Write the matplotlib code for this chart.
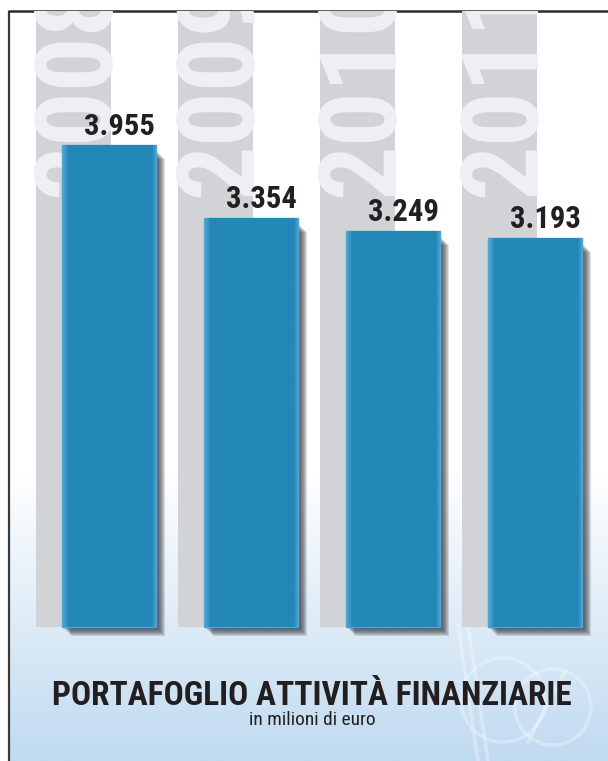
import os
import numpy as np
import matplotlib
matplotlib.use('Agg')
import matplotlib.pyplot as plt
from matplotlib import font_manager as fm
from matplotlib.colors import to_rgb
from matplotlib.patches import Circle

# dati
anni = ['2008', '2009', '2010', '2011']
valori = [3955, 3354, 3249, 3193]
titolo = 'PORTAFOGLIO ATTIVITÀ FINANZIARIE'
sottotitolo = 'in milioni di euro'


def trova_font(chiavi, bold):
    # cerca un file di font stretto (narrow / condensed)
    escl = ['italic', 'oblique', 'semi', 'extra', 'ultra', 'light', 'thin', 'medium', 'black', 'heavy']
    for k in chiavi:
        for f in fm.fontManager.ttflist:
            fn = os.path.basename(f.fname).lower()
            if k not in fn or any(e in fn for e in escl):
                continue
            if ('bold' in fn) == bold:
                return fm.FontProperties(fname=f.fname)
    return fm.FontProperties(family='DejaVu Sans', weight='bold' if bold else 'normal')


chiavi = ['liberationsansnarrow', 'robotocondensed', 'roboto_condensed', 'opensans_condensed',
          'opensans-condensed', 'opensanscondensed', 'notosans-condensed', 'dejavusanscondensed']
fp_b = trova_font(chiavi, True)
fp_r = trova_font(chiavi, False)

W, H = 608, 761
fig = plt.figure(figsize=(W / 100, H / 100), dpi=100)
renderer = fig.canvas.get_renderer()


def adatta(txt, larghezza):
    # regola la dimensione del testo sulla larghezza voluta (pixel)
    w = txt.get_window_extent(renderer).width
    txt.set_fontsize(txt.get_fontsize() * larghezza / w)


# sfondo in pixel
bg = fig.add_axes([0, 0, 1, 1])
bg.set_xlim(0, W)
bg.set_ylim(H, 0)
bg.axis('off')

# sfumatura azzurra in basso
top_c = np.array(to_rgb('#ffffff'))
bot_c = np.array(to_rgb('#c0daf0'))
t = np.linspace(0, 1, 256)[:, None, None]
grad = top_c * (1 - t) + bot_c * t
bg.imshow(grad, extent=[8, W, H, 470], aspect='auto', zorder=0)

# cornice
bg.plot([8.5, 8.5], [11, H], color='#3a3a3a', lw=1.6, zorder=1, solid_capstyle='butt')
bg.plot([8, W], [11, 11], color='#2a2a2a', lw=1.8, zorder=1, solid_capstyle='butt')

# logo in filigrana
wm = dict(color='white', alpha=0.3, lw=2.5, zorder=1)
bg.plot([458, 478], [625, 761], **wm)
bg.plot([468, 488], [625, 761], **wm)
for cx, cy, r in [(503, 700, 42), (553, 707, 38)]:
    bg.add_patch(Circle((cx, cy), r, fill=False, ec='white', alpha=0.3, lw=2.5, zorder=1))
bg.plot([565, 528], [672, 742], **wm)

# titolo
tt = fig.text(312 / W, 1 - 705 / H, titolo, ha='center', va='baseline',
              color='#231f20', fontproperties=fp_b)
tt.set_fontsize(23)
adatta(tt, 521)
st = fig.text(312 / W, 1 - 725 / H, sottotitolo, ha='center', va='baseline',
              color='#231f20', fontproperties=fp_r)
st.set_fontsize(12)
adatta(st, 127)

# grafico
ax = fig.add_axes([8 / W, 0, (W - 8) / W, (H - 11) / H])
ax.patch.set_alpha(0)
ax.axis('off')
scala = 482 / 3955          # pixel per unità
y_top = (627 - 11) / scala
y_bot = -(H - 627) / scala
ax.set_ylim(y_bot, y_top)
ax.set_xlim(-101 / 142, -101 / 142 + (W - 8) / 142)

x = np.arange(len(anni))
vals = np.array(valori)

# fasce grigie con l'anno
ax.bar(x - 0.25, y_top, width=0.528, color='#d1d3d6', zorder=1)
for xi, anno in zip(x, anni):
    ty = ax.text(xi + 0.005, (627 - 197) / scala, anno, rotation=90, rotation_mode='anchor',
                 ha='left', va='baseline', color='#eef0f3', fontproperties=fp_b,
                 clip_on=True, zorder=2)
    ty.set_fontsize(78)

# ombre
for s in range(1, 10):
    ax.bar(x + s / 142, vals - 5 / scala, width=0.662, bottom=-s / scala,
           color='#2a2e34', alpha=0.15, zorder=3, linewidth=0)

# barre
bars = ax.bar(x, vals, width=0.662, color='#2387b8', edgecolor='#4ba6d6',
              linewidth=1.0, zorder=4)
prof = np.linspace(0, 1, 200)
light = np.array(to_rgb('#55a9d6'))
dark = np.array(to_rgb('#2387b8'))
w = np.clip(np.maximum(1 - prof / 0.07, 1 - (1 - prof) / 0.05), 0, 1)
img = dark * (1 - w[:, None]) + light * w[:, None]
img = img[None, :, :]
for b in bars:
    im = ax.imshow(img, extent=[b.get_x(), b.get_x() + b.get_width(), 0, b.get_height()],
                   aspect='auto', zorder=4.5)
    im.set_clip_path(b)

# etichette
for b, v in zip(bars, vals):
    tv = ax.text(b.get_x() + b.get_width() - 1 / 142, v + 10 / scala, f'{v:,}'.replace(',', '.'),
                 ha='right', va='baseline', color='#231f20', fontproperties=fp_b, zorder=5)
    tv.set_fontsize(24)
    adatta(tv, 71)

ax.set_xlim(-101 / 142, -101 / 142 + (W - 8) / 142)
ax.set_ylim(y_bot, y_top)

fig.savefig('out.png', dpi=100)
